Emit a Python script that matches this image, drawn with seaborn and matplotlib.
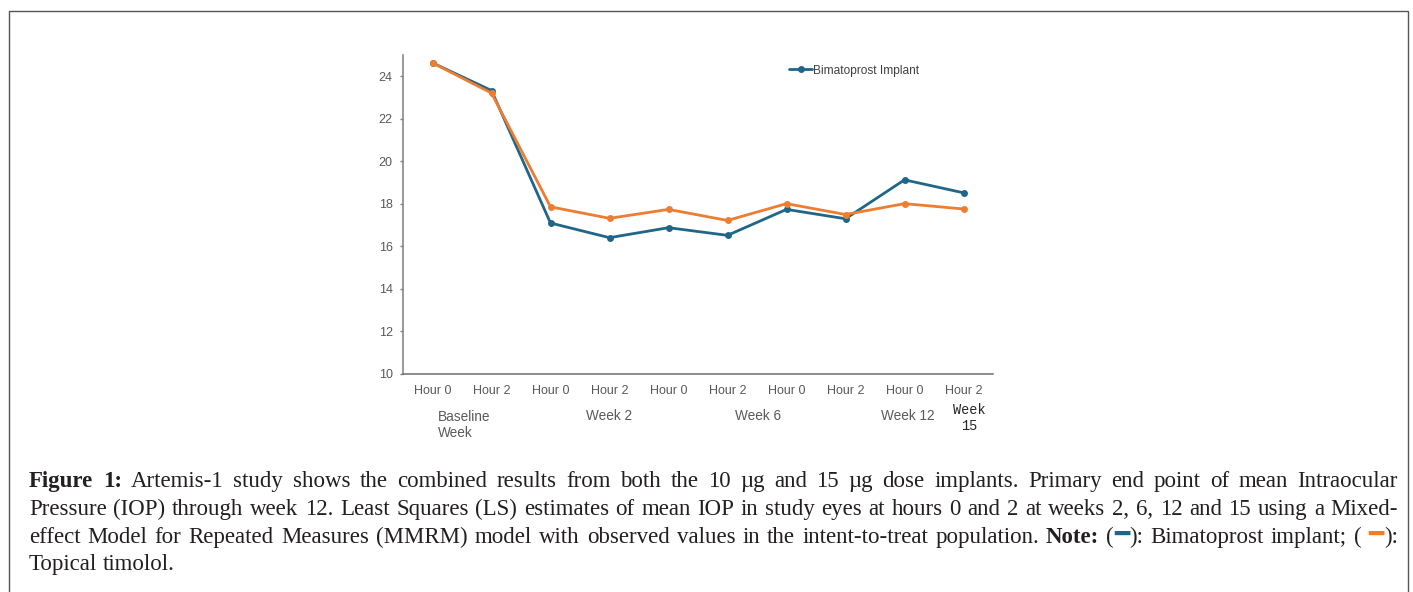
import matplotlib
matplotlib.use("Agg")
import matplotlib.pyplot as plt
import matplotlib.transforms as mtransforms
from matplotlib.patches import Rectangle
import seaborn as sns
import pandas as pd

# ---------------- data ----------------
timepoints = ["Hour 0", "Hour 2", "Hour 0", "Hour 2", "Hour 0",
              "Hour 2", "Hour 0", "Hour 2", "Hour 0", "Hour 2"]
bimatoprost = [24.63, 23.33, 17.10, 16.41, 16.88, 16.52, 17.74, 17.30, 19.13, 18.52]
timolol = [24.63, 23.21, 17.86, 17.32, 17.74, 17.22, 18.01, 17.50, 18.01, 17.76]
series_names = ["Bimatoprost Implant", "Topical timolol"]
group_labels = ["Baseline\nWeek", "Week 2", "Week 6", "Week 12", "Week\n15"]
group_pos = [0.09, 3.0, 5.51, 8.05, 9.1]
y_ticks = [10, 12, 14, 16, 18, 20, 22, 24]

BLUE = "#1f6689"
ORANGE = "#ed7d31"

df = pd.DataFrame({
    "idx": list(range(len(timepoints))) * 2,
    "iop": bimatoprost + timolol,
    "series": [series_names[0]] * len(timepoints) + [series_names[1]] * len(timepoints),
})

sns.set_style("white")
plt.rcParams["font.family"] = ["Liberation Sans", "DejaVu Sans"]

W, H = 1413, 592
fig = plt.figure(figsize=(W / 100, H / 100), dpi=100)
ax = fig.add_axes([403 / W, 1 - 374 / H, (993 - 403) / W, (374 - 55) / H])

sns.lineplot(data=df, x="idx", y="iop", hue="series", hue_order=series_names,
             palette=[BLUE, ORANGE], marker="o", markersize=5, markeredgewidth=0,
             linewidth=2.0, ax=ax, legend=True)

ax.set_xlim(-0.5, 9.5)
ax.set_ylim(10, 25)
ax.set_xticks(range(len(timepoints)))
ax.set_xticklabels(timepoints)
ax.set_yticks(y_ticks)
ax.set_xlabel("")
ax.set_ylabel("")
for s in ["top", "right"]:
    ax.spines[s].set_visible(False)
ax.spines["left"].set_color("#7f7f7f")
ax.spines["bottom"].set_color("#6f6f6f")
ax.spines["left"].set_linewidth(1.1)
ax.spines["bottom"].set_linewidth(1.1)
ax.tick_params(axis="y", which="both", left=True, length=2.5, width=1, color="#7f7f7f",
               pad=5, labelsize=9, labelcolor="#595959")
ax.tick_params(axis="x", which="both", bottom=False, length=0, pad=8,
               labelsize=9, labelcolor="#595959")

handles, labels = ax.get_legend_handles_labels()
leg = ax.legend([handles[0]], [labels[0]], loc="center left",
                bbox_to_anchor=(0.655, 0.951), frameon=False, fontsize=8.6,
                handlelength=1.9, handletextpad=0.1, borderpad=0, borderaxespad=0)
for t in leg.get_texts():
    t.set_color("#404040")

# group labels under the tick labels
trans = mtransforms.blended_transform_factory(ax.transData, ax.transAxes)
for lab, pos in zip(group_labels, group_pos):
    if lab.startswith("Baseline"):
        ax.text(pos, -0.16, lab, transform=trans, ha="left", va="center",
                fontsize=9.8, color="#595959", linespacing=1.25)
    elif lab.startswith("Week\n"):
        ax.text(pos, -0.138, lab, transform=trans, ha="center", va="center",
                fontsize=9.8, color="#262626", family="Liberation Mono", linespacing=1.2)
    else:
        ax.text(pos, -0.132, lab, transform=trans, ha="center", va="center",
                fontsize=9.8, color="#595959")

# frame around figure
fig.patches.append(Rectangle((9 / W, -0.05), (1408 - 9) / W, 1.05 - 11 / H,
                             transform=fig.transFigure, fill=False,
                             edgecolor="#555555", linewidth=1.0))

# ---------------- caption (justified) ----------------
CAP_FONT = ["Liberation Serif", "DejaVu Serif"]
CAP_SIZE = 16.5
CAP_COLOR = "#231f20"

def W_(s, style="n"):
    return [(s, style)]

caption_lines = [
    [[("Figure", "b")], [("1:", "b")]] + [W_(w) for w in
        "Artemis-1 study shows the combined results from both the 10 µg and 15 µg dose implants. Primary end point of mean Intraocular".split()],
    [W_(w) for w in
        "Pressure (IOP) through week 12. Least Squares (LS) estimates of mean IOP in study eyes at hours 0 and 2 at weeks 2, 6, 12 and 15 using a Mixed-".split()],
    [W_(w) for w in
        "effect Model for Repeated Measures (MMRM) model with observed values in the intent-to-treat population.".split()]
    + [[("Note:", "b")], [("(", "n"), ("━", "blue"), ("):", "n")],
       W_("Bimatoprost"), W_("implant;"), W_("("), [("━", "orange"), ("):", "n")]],
    [W_("Topical"), W_("timolol.")],
]
baselines = [487, 515, 543, 570]
x_left, x_right = 29, 1398

def style_kw(style):
    kw = dict(fontsize=CAP_SIZE, color=CAP_COLOR, family=CAP_FONT)
    if style == "b":
        kw["fontweight"] = "bold"
    elif style in ("blue", "orange"):
        kw["color"] = BLUE if style == "blue" else ORANGE
        kw["family"] = ["DejaVu Sans"]
        kw["fontsize"] = CAP_SIZE * 1.1
    return kw

fig.canvas.draw()
renderer = fig.canvas.get_renderer()

def run_width(s, style):
    t = fig.text(0, 0, s, **style_kw(style))
    w = t.get_window_extent(renderer).width
    t.remove()
    return w

space_w = run_width("a a", "n") - run_width("aa", "n")

for li, (words, base) in enumerate(zip(caption_lines, baselines)):
    widths = [[run_width(s, st) for s, st in word] for word in words]
    word_w = [sum(w) for w in widths]
    if li < len(caption_lines) - 1:
        gap = (x_right - x_left - sum(word_w)) / (len(words) - 1)
    else:
        gap = space_w
    x = x_left
    for word, ws in zip(words, widths):
        for (s, st), w in zip(word, ws):
            yb = base if st in ("n", "b") else base - 1
            fig.text(x / W, 1 - yb / H, s, ha="left", va="baseline", **style_kw(st))
            x += w
        x += gap

fig.savefig("out.png", dpi=100)
